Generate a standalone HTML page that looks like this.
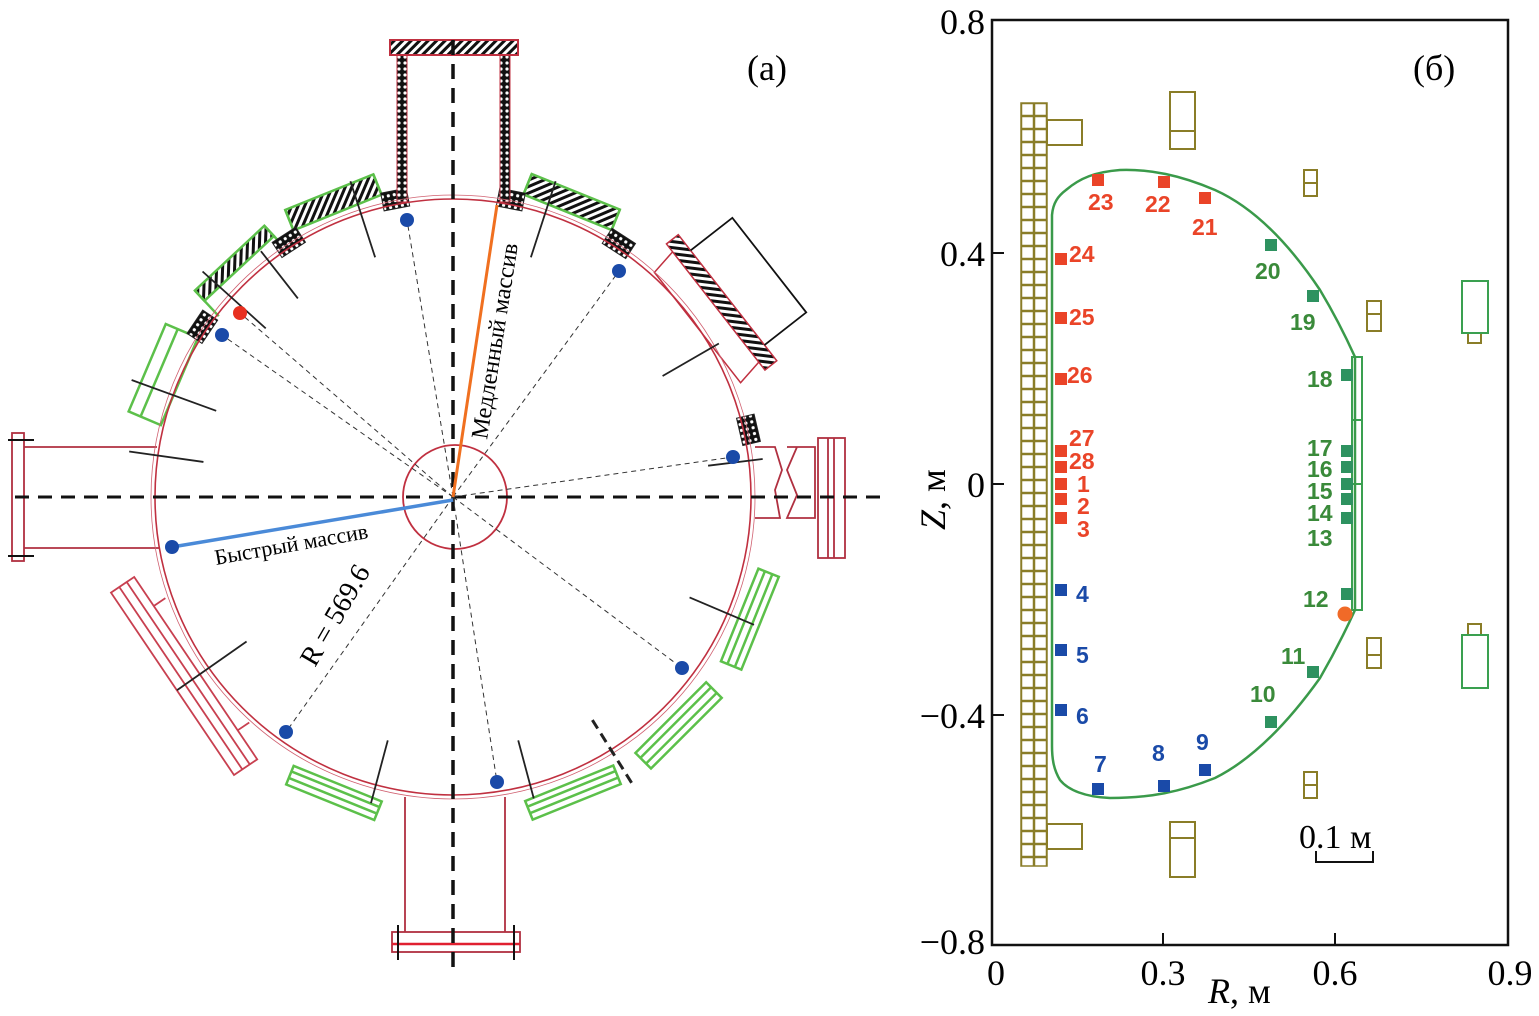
<!DOCTYPE html>
<html><head><meta charset="utf-8"><style>
html,body{margin:0;padding:0;background:#fff}
svg{display:block}
.ser{font-family:"Liberation Serif","Noto Serif CJK SC",serif}
.num{font-family:"Liberation Sans",sans-serif;font-weight:bold;font-size:23px}
</style></head><body>
<svg width="1539" height="1016" viewBox="0 0 1539 1016" xmlns="http://www.w3.org/2000/svg">
<defs>
<pattern id="ch" width="6" height="6" patternUnits="userSpaceOnUse">
<rect width="6" height="6" fill="#111"/><circle cx="3" cy="3" r="1.6" fill="#fff"/>
</pattern>
<pattern id="hs" width="6" height="6" patternUnits="userSpaceOnUse" patternTransform="rotate(45)">
<rect width="6" height="6" fill="#fff"/><rect width="3" height="6" fill="#111"/>
</pattern>
<pattern id="grid" x="1021" y="103" width="13" height="13" patternUnits="userSpaceOnUse">
<rect x="0.5" y="0.5" width="12" height="12" fill="#fff" stroke="#8a7d28" stroke-width="1.5"/>
</pattern>
</defs>

<g id="a">
<g fill="none" stroke="#5cc04a" stroke-width="2.5">
 <g transform="rotate(-22 453 497)"><rect x="405" y="168" width="95" height="22" fill="url(#hs)"/><line x1="405" y1="168" x2="405" y2="205"/><line x1="500" y1="168" x2="500" y2="205"/></g>
 <g transform="rotate(22 453 497)"><rect x="405" y="168" width="95" height="22" fill="url(#hs)"/><line x1="405" y1="168" x2="405" y2="205"/><line x1="500" y1="168" x2="500" y2="205"/></g>
 <g transform="rotate(-43 453 497)"><rect x="405" y="170" width="95" height="14" fill="url(#hs)"/><line x1="405" y1="170" x2="405" y2="205"/><line x1="500" y1="170" x2="500" y2="205"/></g>
 <g transform="rotate(-67 453 497)"><rect x="405" y="165" width="95" height="35"/><line x1="405" y1="178" x2="500" y2="178"/></g>
 <g transform="rotate(112 453 497)"><rect x="405" y="165" width="100" height="22"/><line x1="405" y1="172" x2="505" y2="172"/><line x1="405" y1="180" x2="505" y2="180"/></g>
 <g transform="rotate(135 453 497)"><rect x="405" y="165" width="100" height="22"/><line x1="405" y1="172" x2="505" y2="172"/><line x1="405" y1="180" x2="505" y2="180"/></g>
 <g transform="rotate(158 453 497)"><rect x="405" y="168" width="95" height="20"/><line x1="405" y1="175" x2="500" y2="175"/><line x1="405" y1="182" x2="500" y2="182"/></g>
 <g transform="rotate(202 453 497)"><rect x="405" y="168" width="95" height="20"/><line x1="405" y1="175" x2="500" y2="175"/><line x1="405" y1="182" x2="500" y2="182"/></g>
</g>
<g fill="url(#ch)" stroke="#222" stroke-width="1">
 <g transform="rotate(-11 453 497)"><rect x="440" y="185" width="26" height="18"/></g>
 <g transform="rotate(11 453 497)"><rect x="440" y="185" width="26" height="18"/></g>
 <g transform="rotate(-33 453 497)"><rect x="440" y="185" width="28" height="18"/></g>
 <g transform="rotate(33 453 497)"><rect x="440" y="185" width="28" height="18"/></g>
 <g transform="rotate(-56 453 497)"><rect x="440" y="185" width="28" height="18"/></g>
 <g transform="rotate(77 453 497)"><rect x="440" y="185" width="28" height="18"/></g>
</g>
<g transform="rotate(52 453 497)">
 <rect x="385" y="158" width="160" height="15" fill="url(#hs)" stroke="#c03040" stroke-width="1.5"/>
 <polyline points="395,173 400,200 540,200 535,173" fill="none" stroke="#c03040" stroke-width="1.5"/>
 <polyline points="405,158 405,105 525,105 525,158" fill="none" stroke="#111" stroke-width="1.8"/>
</g>
<g transform="rotate(-124 453 497)" fill="none" stroke="#c84050" stroke-width="1.8">
 <rect x="345" y="160" width="220" height="28"/>
 <line x1="345" y1="170" x2="565" y2="170"/><line x1="345" y1="179" x2="565" y2="179"/>
 <line x1="380" y1="188" x2="380" y2="202"/><line x1="530" y1="188" x2="530" y2="202"/>
</g>
<rect x="397" y="55" width="10" height="147" fill="url(#ch)" stroke="#c03040"/>
<rect x="500" y="55" width="10" height="147" fill="url(#ch)" stroke="#c03040"/>
<rect x="390" y="40" width="128" height="15" fill="url(#hs)" stroke="#c03040" stroke-width="2"/>
<g fill="none" stroke="#b03040" stroke-width="1.8">
 <line x1="405" y1="797" x2="405" y2="932"/><line x1="505" y1="797" x2="505" y2="932"/>
 <rect x="392" y="932" width="128" height="20"/>
</g>
<line x1="392" y1="944" x2="520" y2="944" stroke="#e02030" stroke-width="2.5"/>
<line x1="398" y1="925" x2="398" y2="960" stroke="#111" stroke-width="2"/><line x1="514" y1="925" x2="514" y2="960" stroke="#111" stroke-width="2"/>
<g fill="none" stroke="#b03040" stroke-width="1.8">
 <line x1="24" y1="447" x2="157" y2="447"/><line x1="24" y1="548" x2="160" y2="548"/>
 <rect x="12" y="433" width="12" height="128"/>
</g>
<line x1="8" y1="440" x2="34" y2="440" stroke="#111" stroke-width="2"/><line x1="8" y1="556" x2="34" y2="556" stroke="#111" stroke-width="2"/>
<g fill="none" stroke="#b03040" stroke-width="1.8">
 <polyline points="755,447 775,447 782,470 775,490 780,518 755,518"/>
 <polyline points="787,447 815,447 815,470 815,518 787,518 797,495 787,470 797,447"/>
 <rect x="818" y="438" width="27" height="120"/>
 <line x1="828" y1="438" x2="828" y2="558"/><line x1="834" y1="438" x2="834" y2="558"/>
</g>
<circle cx="453" cy="497" r="298" fill="none" stroke="#c03040" stroke-width="1.6"/>
<circle cx="453" cy="497" r="302" fill="none" stroke="#d06070" stroke-width="0.8"/>
<circle cx="455" cy="497" r="52" fill="none" stroke="#c03040" stroke-width="1.8"/>
<g stroke="#222" stroke-width="1.8">
 <g transform="rotate(-18 453 497)"><line x1="453" y1="165" x2="453" y2="245"/></g>
 <g transform="rotate(18 453 497)"><line x1="453" y1="165" x2="453" y2="245"/></g>
 <g transform="rotate(-38 453 497)"><line x1="453" y1="185" x2="453" y2="245"/></g>
 <g transform="rotate(-48 453 497)"><line x1="453" y1="160" x2="453" y2="245"/></g>
 <g transform="rotate(-70 453 497)"><line x1="453" y1="155" x2="453" y2="245"/></g>
 <g transform="rotate(-82 453 497)"><line x1="453" y1="170" x2="453" y2="245"/></g>
 <g transform="rotate(60 453 497)"><line x1="453" y1="190" x2="453" y2="255"/></g>
 <g transform="rotate(83 453 497)"><line x1="453" y1="185" x2="453" y2="240"/></g>
 <g transform="rotate(113 453 497)"><line x1="453" y1="170" x2="453" y2="240"/></g>
 <g transform="rotate(148 453 497)"><line x1="453" y1="160" x2="453" y2="240" stroke-dasharray="10,6" stroke-width="3"/></g>
 <g transform="rotate(165 453 497)"><line x1="453" y1="185" x2="453" y2="245"/></g>
 <g transform="rotate(-165 453 497)"><line x1="453" y1="180" x2="453" y2="245"/></g>
 <g transform="rotate(-125 453 497)"><line x1="453" y1="160" x2="453" y2="245"/></g>
</g>
<line x1="15" y1="497" x2="880" y2="497" stroke="#111" stroke-width="3" stroke-dasharray="14,9"/>
<line x1="453" y1="40" x2="453" y2="975" stroke="#111" stroke-width="3.5" stroke-dasharray="15,9"/>
<g stroke="#333" stroke-width="1" stroke-dasharray="5,4">
 <line x1="453" y1="497" x2="407" y2="220"/><line x1="453" y1="497" x2="619" y2="271"/>
 <line x1="453" y1="497" x2="733" y2="457"/><line x1="453" y1="497" x2="682" y2="668"/>
 <line x1="453" y1="497" x2="497" y2="782"/><line x1="453" y1="497" x2="286" y2="732"/>
 <line x1="453" y1="497" x2="222" y2="335"/><line x1="453" y1="497" x2="240" y2="313"/>
</g>
<line x1="453" y1="497" x2="497" y2="205" stroke="#f07020" stroke-width="3"/>
<line x1="453" y1="500" x2="172" y2="547" stroke="#4a8ad8" stroke-width="3.5"/>
<g fill="#1a4aa8">
 <circle cx="407" cy="220" r="7"/><circle cx="619" cy="271" r="7"/><circle cx="733" cy="457" r="7"/>
 <circle cx="682" cy="668" r="7"/><circle cx="497" cy="782" r="7"/><circle cx="286" cy="732" r="7"/>
 <circle cx="172" cy="547" r="7"/><circle cx="222" cy="335" r="7"/>
</g>
<circle cx="240" cy="313" r="7" fill="#e83020"/>
<text class="ser" font-size="24" transform="translate(487,440) rotate(-81)">Медленный массив</text>
<text class="ser" font-size="22" transform="translate(216,565) rotate(-10)">Быстрый массив</text>
<text class="ser" font-size="28" transform="translate(315,668) rotate(-60)">R = 569.6</text>
<text class="ser" font-size="36" x="747" y="80">(a)</text>
</g>

<g id="b">
<rect x="992" y="20" width="516" height="925" fill="none" stroke="#111" stroke-width="2.5"/>
<g stroke="#111" stroke-width="2">
 <line x1="992" y1="253" x2="1004" y2="253"/><line x1="992" y1="484" x2="1004" y2="484"/><line x1="992" y1="715" x2="1004" y2="715"/>
 <line x1="1163" y1="945" x2="1163" y2="933"/><line x1="1335" y1="945" x2="1335" y2="933"/>
</g>
<g class="ser" font-size="36" text-anchor="end">
 <text x="985" y="34">0.8</text><text x="985" y="266">0.4</text><text x="985" y="497">0</text>
 <text x="985" y="728">−0.4</text><text x="985" y="954">−0.8</text>
</g>
<g class="ser" font-size="36" text-anchor="middle">
 <text x="996" y="985">0</text><text x="1163" y="985">0.3</text><text x="1335" y="985">0.6</text><text x="1510" y="985">0.9</text>
</g>
<text class="ser" font-size="36" x="1208" y="1003"><tspan font-style="italic">R</tspan>, м</text>
<text class="ser" font-size="36" transform="translate(945,530) rotate(-90)"><tspan font-style="italic">Z</tspan>, м</text>
<text class="ser" font-size="36" x="1413" y="80">(б)</text>

<rect x="1021" y="103" width="26" height="763" fill="url(#grid)" stroke="#8a7d28" stroke-width="1.5"/>
<g fill="none" stroke="#8a7d28" stroke-width="2">
 <rect x="1047" y="120" width="35" height="25"/><rect x="1047" y="824" width="35" height="25"/>
 <rect x="1170" y="92" width="25" height="57"/><line x1="1170" y1="131" x2="1195" y2="131"/>
 <rect x="1170" y="822" width="25" height="55"/><line x1="1170" y1="838" x2="1195" y2="838"/>
 <rect x="1304" y="170" width="13" height="26"/><line x1="1304" y1="183" x2="1317" y2="183"/>
 <rect x="1304" y="772" width="13" height="26"/><line x1="1304" y1="785" x2="1317" y2="785"/>
 <rect x="1367" y="301" width="14" height="30"/><line x1="1367" y1="314" x2="1381" y2="314"/>
 <rect x="1367" y="638" width="14" height="30"/><line x1="1367" y1="655" x2="1381" y2="655"/>
 <rect x="1468" y="333" width="13" height="10"/><rect x="1468" y="624" width="13" height="11"/>
</g>
<g fill="none" stroke="#3aa050" stroke-width="2">
 <rect x="1462" y="281" width="26" height="52"/><rect x="1462" y="635" width="26" height="53"/>
 <rect x="1352" y="357" width="10" height="253"/><line x1="1352" y1="420" x2="1362" y2="420"/><line x1="1352" y1="484" x2="1362" y2="484"/>
</g>
<path d="M1052,746 L1052,215 C1053,203 1058,196 1066,190 C1080,178 1095,172 1120,170 C1150,169 1180,175 1215,190 C1255,208 1290,245 1320,290 C1335,315 1345,335 1355,357 L1355,610 C1345,632 1335,652 1320,678 C1290,720 1255,758 1215,778 C1180,792 1150,798 1110,798 C1085,797 1068,790 1060,780 C1054,770 1052,760 1052,746 Z" fill="none" stroke="#3a9a4a" stroke-width="2.5"/>
<g fill="#ea4428">
 <rect x="1092" y="174" width="12" height="12"/><rect x="1158" y="176" width="12" height="12"/><rect x="1199" y="192" width="12" height="12"/>
 <rect x="1055" y="253" width="12" height="12"/><rect x="1055" y="312" width="12" height="12"/><rect x="1055" y="373" width="12" height="12"/>
 <rect x="1055" y="445" width="12" height="12"/><rect x="1055" y="461" width="12" height="12"/><rect x="1055" y="478" width="12" height="12"/>
 <rect x="1055" y="493" width="12" height="12"/><rect x="1055" y="512" width="12" height="12"/>
</g>
<g class="num" fill="#ea4428">
 <text x="1088" y="210">23</text><text x="1145" y="212">22</text><text x="1192" y="235">21</text>
 <text x="1069" y="262">24</text><text x="1069" y="325">25</text><text x="1067" y="383">26</text>
 <text x="1069" y="446">27</text><text x="1069" y="469">28</text><text x="1077" y="492">1</text>
 <text x="1077" y="514">2</text><text x="1077" y="537">3</text>
</g>
<g fill="#2e9260">
 <rect x="1265" y="239" width="12" height="12"/><rect x="1307" y="290" width="12" height="12"/>
 <rect x="1341" y="369" width="12" height="12"/><rect x="1341" y="445" width="12" height="12"/><rect x="1341" y="461" width="12" height="12"/>
 <rect x="1341" y="478" width="12" height="12"/><rect x="1341" y="493" width="12" height="12"/><rect x="1341" y="512" width="12" height="12"/>
 <rect x="1341" y="588" width="12" height="12"/><rect x="1307" y="666" width="12" height="12"/><rect x="1265" y="716" width="12" height="12"/>
</g>
<g class="num" fill="#3a8a3a">
 <text x="1255" y="279">20</text><text x="1290" y="330">19</text><text x="1307" y="387">18</text>
 <text x="1307" y="456">17</text><text x="1307" y="477">16</text><text x="1307" y="499">15</text>
 <text x="1307" y="521">14</text><text x="1307" y="546">13</text><text x="1303" y="607">12</text>
 <text x="1281" y="664">11</text><text x="1250" y="702">10</text>
</g>
<circle cx="1345" cy="614" r="7.5" fill="#f06a28"/>
<g fill="#1a4aa8">
 <rect x="1055" y="584" width="12" height="12"/><rect x="1055" y="644" width="12" height="12"/><rect x="1055" y="704" width="12" height="12"/>
 <rect x="1092" y="783" width="12" height="12"/><rect x="1158" y="780" width="12" height="12"/><rect x="1199" y="764" width="12" height="12"/>
</g>
<g class="num" fill="#1a4aa8">
 <text x="1076" y="602">4</text><text x="1076" y="663">5</text><text x="1076" y="724">6</text>
 <text x="1094" y="772">7</text><text x="1152" y="761">8</text><text x="1196" y="750">9</text>
</g>
<text class="ser" font-size="34" x="1299" y="848">0.1 м</text>
<polyline points="1316,851 1316,862 1373,862 1373,851" fill="none" stroke="#111" stroke-width="2"/>
</g>
</svg>
</body></html>
